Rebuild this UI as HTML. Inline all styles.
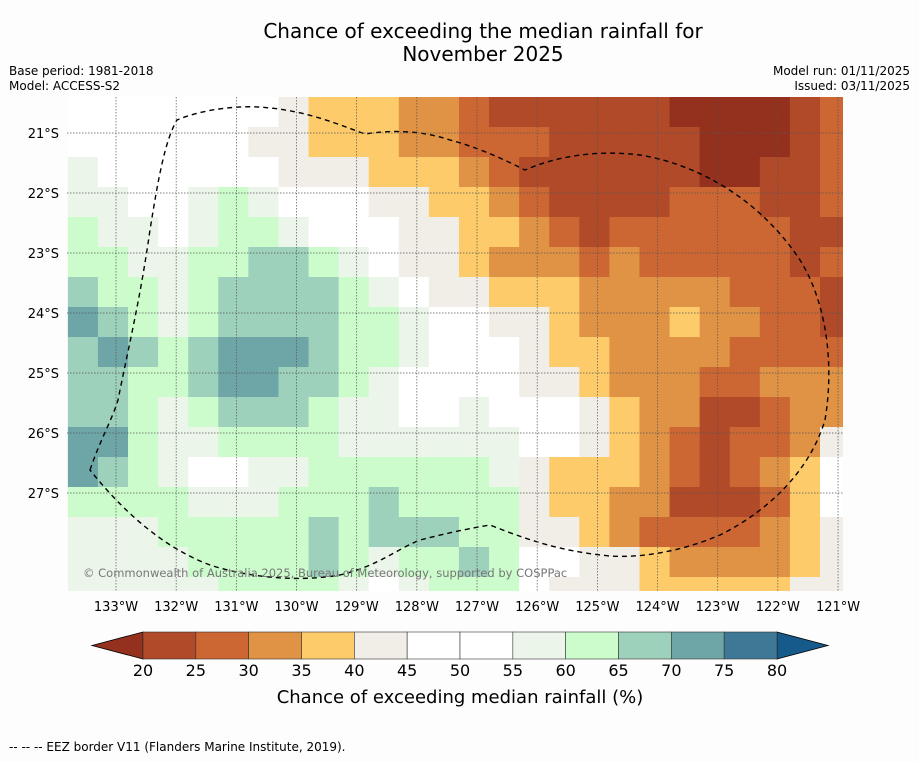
<!DOCTYPE html>
<html><head><meta charset="utf-8"><style>
body{margin:0;background:#fdfdfd;font-family:"DejaVu Sans","Liberation Sans",sans-serif;}
svg text{font-family:"DejaVu Sans","Liberation Sans",sans-serif;}
</style></head><body>
<svg id="chart" width="919" height="758" xmlns="http://www.w3.org/2000/svg">
<rect width="919" height="758" fill="#fdfdfd"/>
<text x="483" y="38" font-size="20" text-anchor="middle">Chance of exceeding the median rainfall for</text>
<text x="483" y="61" font-size="20" text-anchor="middle">November 2025</text>
<text x="9" y="75" font-size="12">Base period: 1981-2018</text>
<text x="9" y="90" font-size="12">Model: ACCESS-S2</text>
<text x="910" y="75" font-size="12" text-anchor="end">Model run: 01/11/2025</text>
<text x="910" y="90" font-size="12" text-anchor="end">Issued: 03/11/2025</text>
<defs><clipPath id="mapclip"><rect x="67" y="97" width="776" height="494"/></clipPath></defs>
<g id="map" clip-path="url(#mapclip)"></g>
<g id="axes"></g>
<g id="cbar"></g>
<text x="460" y="703" font-size="18" text-anchor="middle">Chance of exceeding median rainfall (%)</text>
<text x="9" y="751" font-size="12">--  --  -- EEZ border V11 (Flanders Marine Institute, 2019).</text>
</svg>
<script>
const NS="http://www.w3.org/2000/svg";
const lonTicks=[-133,-132,-131,-130,-129,-128,-127,-126,-125,-124,-123,-122,-121];
const latTicks=[21,22,23,24,25,26,27];
const levels=[20,25,30,35,40,45,50,55,60,65,70,75,80];
const levelColors=["#b04a28","#cc6633","#e09245","#fecb6a","#f1ede7","#ffffff","#ffffff","#ecf5ea","#ccfccc","#9dd1bb","#6ea6a8","#3f7896"];
const underColor="#93311e", overColor="#155a8a";
const gridLon0=-133.8, gridLat0=20.4, gridStep=0.5;
const gridRows=[
"fffffffeddd"+"ccbaaaaaazzzzab",
"ffffffeeddd"+"ccbbbaaaaazzzab",
"gffffffeeed"+"ddcbaaaaaazzaab",
"ggffghgfffe"+"eddcbaaaabbbaab",
"hggfghhgfff"+"eeddcbabbbbbbaa",
"hhgghhiihgf"+"eedcccbcbbbbbab",
"ihhghiiiihg"+"feedddcccccbbba",
"jihghiiiihh"+"gffeedcccdccbba",
"ijihijjjihh"+"gfffeddccccbbbb",
"iihhijjiihg"+"ffffeedcccbbccc",
"iihghiiihgg"+"ffgfffedccaabcc",
"jjhgghhhhgg"+"ggggffedcbabbce",
"jihgffgghhh"+"hhhgedddcbabcdf",
"hhhhggghhhi"+"hhhheddccaaabdf",
"ggghhhhhihi"+"iihheedcbbbbcde",
"gggghhhhihg"+"hhihffeedccccde",
"ggggghhhhgf"+"ghhhfeeedddddee"];
const codeVal={z:17,a:22,b:27,c:32,d:37,e:42,f:50,g:57,h:62,i:67,j:72};
function xOf(lon){return 116+(lon+133)*60.17;}
function yOf(lat){return 133+(lat-21)*60;}
function colorOf(v){if(v<levels[0])return underColor;if(v>=levels[levels.length-1])return overColor;for(let i=0;i<levels.length-1;i++)if(v<levels[i+1])return levelColors[i];}
const map=document.getElementById('map');
gridRows.forEach((row,r)=>{[...row].forEach((ch,c)=>{
 const v=codeVal[ch];
 const lon=gridLon0+c*gridStep, lat=gridLat0+r*gridStep;
 const x=xOf(lon), y=yOf(lat), w=xOf(lon+gridStep)-x, h=yOf(lat+gridStep)-y;
 const el=document.createElementNS(NS,'rect');
 el.setAttribute('x',x);el.setAttribute('y',y);el.setAttribute('width',w+0.6);el.setAttribute('height',h+0.6);
 el.setAttribute('fill',colorOf(v));
 
 
 map.appendChild(el);
});});
const axes=document.getElementById('axes');
lonTicks.forEach(l=>{
 const x=xOf(l);
 const ln=document.createElementNS(NS,'line');
 ln.setAttribute('x1',x);ln.setAttribute('x2',x);ln.setAttribute('y1',97);ln.setAttribute('y2',591);
 ln.setAttribute('stroke','#555');ln.setAttribute('stroke-width','0.7');ln.setAttribute('stroke-dasharray','1.5,1.5');
 
 
 axes.appendChild(ln);
 const t=document.createElementNS(NS,'text');
 t.setAttribute('x',x);t.setAttribute('y',611);t.setAttribute('font-size','13');t.setAttribute('text-anchor','middle');
 t.textContent=Math.abs(l)+'°W';
 
 
 axes.appendChild(t);
});
latTicks.forEach(l=>{
 const y=yOf(l);
 const ln=document.createElementNS(NS,'line');
 ln.setAttribute('x1',67);ln.setAttribute('x2',843);ln.setAttribute('y1',y);ln.setAttribute('y2',y);
 ln.setAttribute('stroke','#555');ln.setAttribute('stroke-width','0.7');ln.setAttribute('stroke-dasharray','1.5,1.5');
 
 
 axes.appendChild(ln);
 const t=document.createElementNS(NS,'text');
 t.setAttribute('x',59);t.setAttribute('y',y+5);t.setAttribute('font-size','13');t.setAttribute('text-anchor','end');
 t.textContent=l+'°S';
 
 
 axes.appendChild(t);
});
const eez=document.createElementNS(NS,'path');
eez.setAttribute('d','M90,470 C100,440 112,420 118,400 C130,340 140,300 150,230 C158,180 165,140 177,120 C200,110 240,104 270,108 C310,112 340,125 365,134 C390,130 420,130 450,140 C480,148 505,160 525,170 C560,155 600,150 640,155 C700,165 760,200 800,260 C825,300 835,360 825,420 C810,470 770,510 720,535 C680,552 640,558 610,556 C570,552 540,545 490,525 C460,530 440,535 420,540 C395,550 380,565 340,575 C300,582 250,578 210,565 C170,550 130,520 90,470 Z');
eez.setAttribute('fill','none');eez.setAttribute('stroke','#000');eez.setAttribute('stroke-width','1.4');eez.setAttribute('stroke-dasharray','5,4');


map.appendChild(eez);
const cr=document.createElementNS(NS,'text');
cr.setAttribute('x',83);cr.setAttribute('y',577);cr.setAttribute('font-size','11.5');cr.setAttribute('fill','#777');
cr.textContent='© Commonwealth of Australia 2025, Bureau of Meteorology, supported by COSPPac';


map.appendChild(cr);
const cb=document.getElementById('cbar');
const cbX0=143,cbX1=777,cbY=632,cbH=27;
function cbx(v){return cbX0+(v-20)/60*(cbX1-cbX0);}
const lt=document.createElementNS(NS,'polygon');
lt.setAttribute('points',`${cbX0},${cbY} ${cbX0},${cbY+cbH} 92,${cbY+cbH/2}`);
lt.setAttribute('fill',underColor);lt.setAttribute('stroke','#000');lt.setAttribute('stroke-width','0.8');


cb.appendChild(lt);
const rt=document.createElementNS(NS,'polygon');
rt.setAttribute('points',`${cbX1},${cbY} ${cbX1},${cbY+cbH} 828,${cbY+cbH/2}`);
rt.setAttribute('fill',overColor);rt.setAttribute('stroke','#000');rt.setAttribute('stroke-width','0.8');


cb.appendChild(rt);
levelColors.forEach((c,i)=>{
 const r=document.createElementNS(NS,'rect');
 r.setAttribute('x',cbx(levels[i]));r.setAttribute('y',cbY);r.setAttribute('width',cbx(levels[i+1])-cbx(levels[i]));r.setAttribute('height',cbH);
 r.setAttribute('fill',c);r.setAttribute('stroke','#333');r.setAttribute('stroke-width','0.6');
 
 
 cb.appendChild(r);
});
levels.forEach(v=>{
 const t=document.createElementNS(NS,'text');
 t.setAttribute('x',cbx(v));t.setAttribute('y',676);t.setAttribute('font-size','16');t.setAttribute('text-anchor','middle');
 t.textContent=v;
 
 
 cb.appendChild(t);
});
</script>
</body></html>
